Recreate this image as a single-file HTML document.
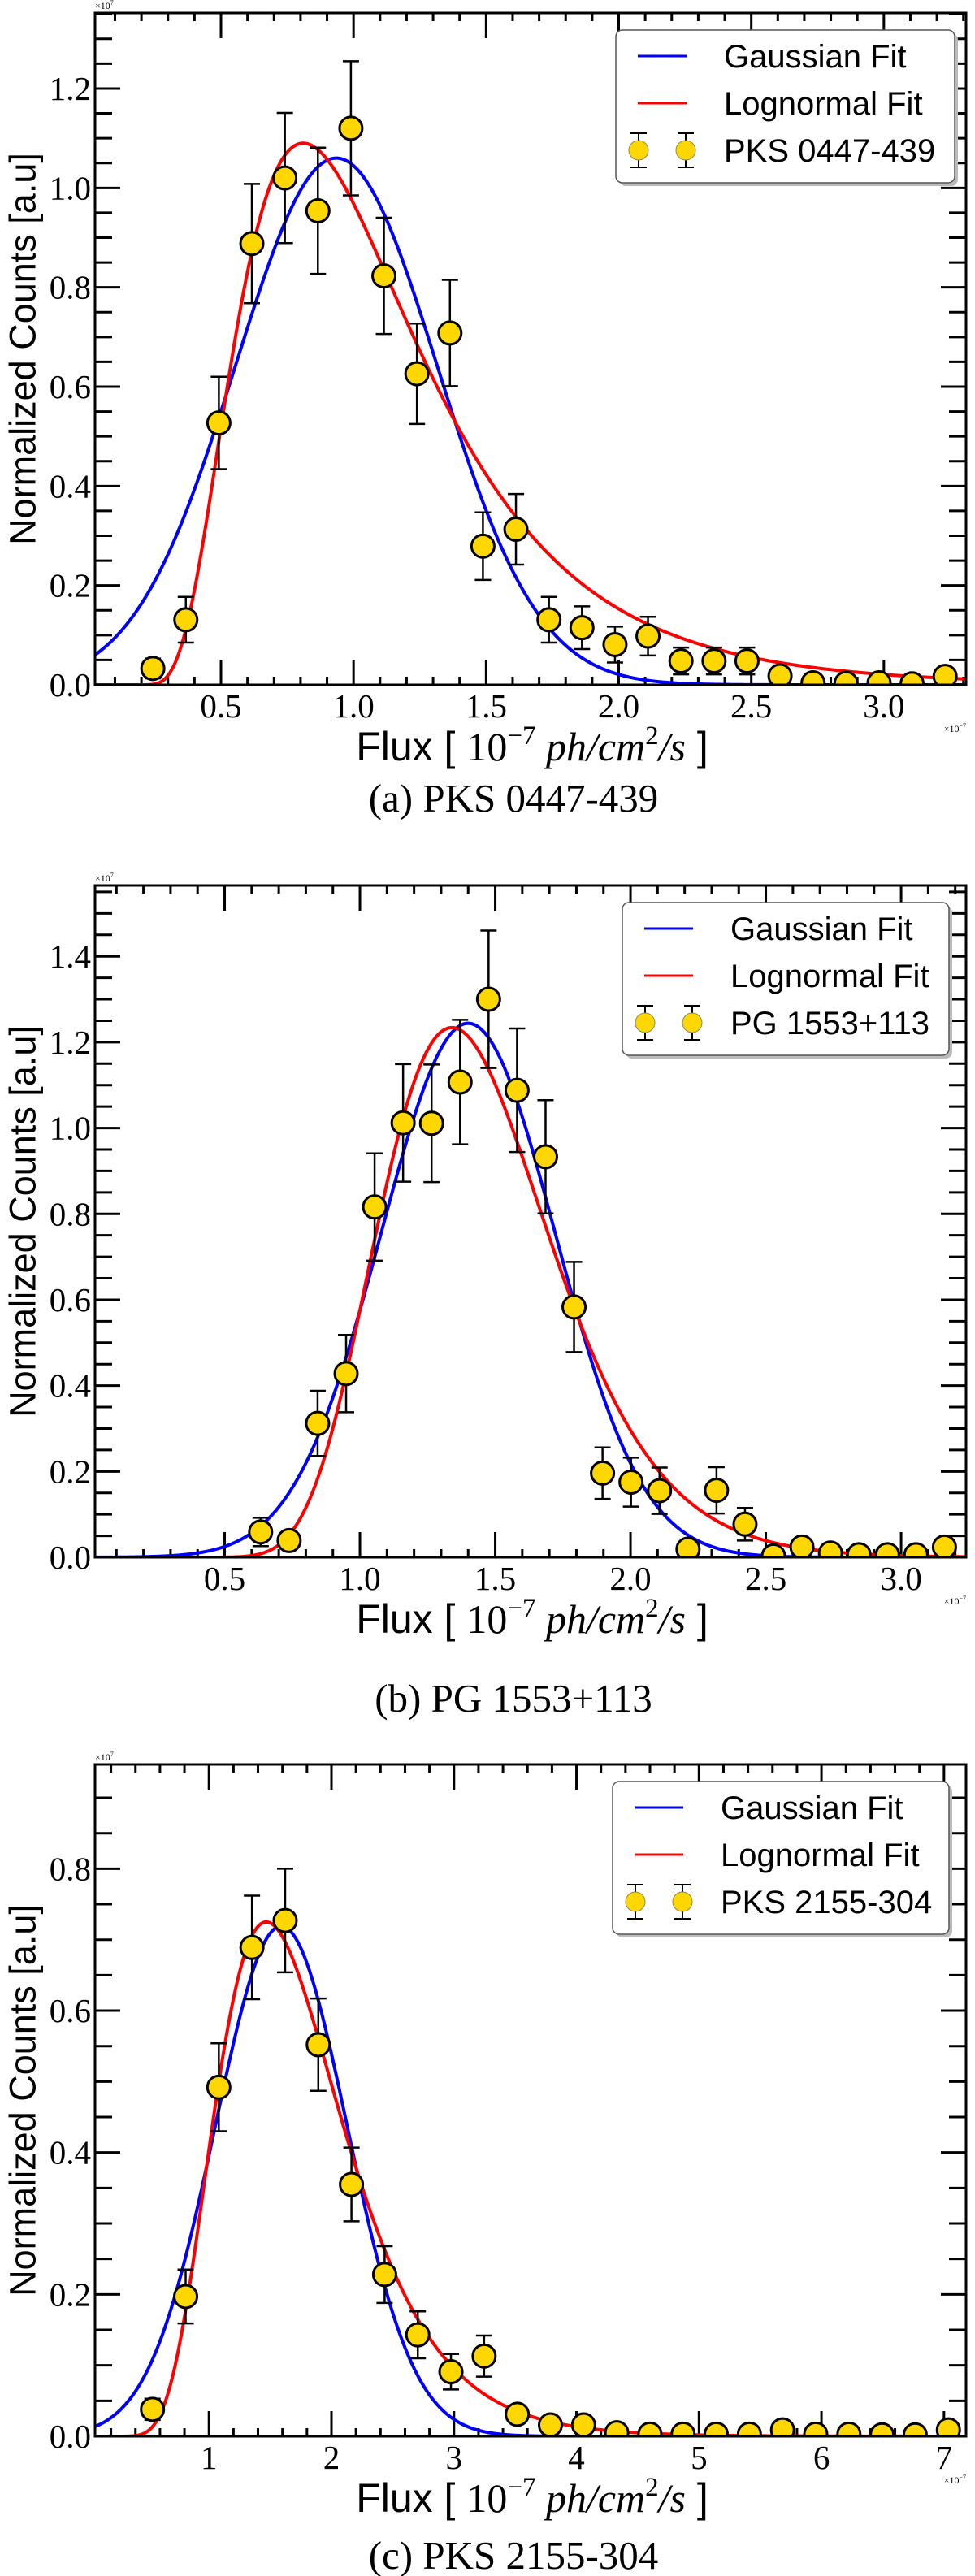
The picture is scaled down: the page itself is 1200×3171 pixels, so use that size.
<!DOCTYPE html>
<html><head><meta charset="utf-8">
<style>
html,body{margin:0;padding:0;background:#fff;}
svg{display:block;}
.tick{stroke:#000;stroke-width:3;}
</style></head>
<body>
<svg id="fig" width="1200" height="3171" viewBox="0 0 1200 3171" xmlns="http://www.w3.org/2000/svg"></svg>
<script>
// ---------- Panel A: PKS 0447-439 ----------
const aFlux0 = 0.243, aStep = 0.1245;
const aCounts = [0.033,0.131,0.527,0.888,1.02,0.954,1.12,0.823,0.626,0.708,0.279,0.313,0.131,0.115,0.081,0.098,0.048,0.048,0.048,0.018,0.004,0.003,0.004,0.002,0.017];
const aErrors = [0.02,0.046,0.093,0.12,0.131,0.127,0.135,0.117,0.101,0.107,0.068,0.071,0.046,0.043,0.036,0.039,0.027,0.027,0.027,0.01,0.004,0.003,0.004,0.002,0.01];
const aGauss = [1.06,0.935,0.38];          // amplitude, mean, sigma
const aLogn = [1.09,0.15,0.66,0.52];       // peak, shift, mode, shape
const aXTicks = ["0.5","1.0","1.5","2.0","2.5","3.0"];
const aYTicks = ["0.0","0.2","0.4","0.6","0.8","1.0","1.2"];

// ---------- Panel B: PG 1553+113 ----------
const bFlux0 = 0.633, bStep = 0.1053;
const bCounts = [0.059,0.039,0.312,0.428,0.816,1.012,1.011,1.107,1.30,1.088,0.933,0.583,0.196,0.175,0.155,0.019,0.156,0.077,0.003,0.024,0.01,0.006,0.006,0.006,0.024];
const bErrors = [0.033,0.018,0.076,0.09,0.125,0.137,0.137,0.145,0.16,0.144,0.132,0.105,0.06,0.057,0.054,0.015,0.054,0.038,0.003,0.012,0.008,0.006,0.006,0.006,0.012];
const bGauss = [1.244,1.40,0.322];
const bLogn = [1.234,0,1.34,0.237];
const bXTicks = ["0.5","1.0","1.5","2.0","2.5","3.0"];
const bYTicks = ["0.0","0.2","0.4","0.6","0.8","1.0","1.2","1.4"];

// ---------- Panel C: PKS 2155-304 ----------
const cFlux0 = 0.539, cStep = 0.2707;
const cCounts = [0.038,0.197,0.492,0.689,0.727,0.552,0.355,0.228,0.143,0.091,0.113,0.031,0.016,0.016,0.005,0.003,0.003,0.003,0.003,0.009,0.003,0.003,0.002,0.002,0.009];
const cErrors = [0.015,0.038,0.062,0.073,0.073,0.065,0.052,0.04,0.033,0.025,0.029,0.01,0.008,0.008,0.004,0.003,0.003,0.003,0.003,0.006,0.003,0.003,0.002,0.002,0.006];
const cGauss = [0.719,1.59,0.54];
const cLogn = [0.725,0,1.468,0.355];
const cXTicks = ["1","2","3","4","5","6","7"];
const cYTicks = ["0.0","0.2","0.4","0.6","0.8"];

const NS = "http://www.w3.org/2000/svg";
const svg = document.getElementById('fig');
function mk(tag, attrs, parent){
  const e = document.createElementNS(NS, tag);
  for (const k in attrs) e.setAttribute(k, attrs[k]);
  (parent||svg).appendChild(e);
  return e;
}

function panel(o){
  const g = mk('g', {});
  
  
  const L=117, R=1189, T=o.top, B=o.bottom;
  const sx = v => L + (v - o.xmin) / (o.xmax - o.xmin) * (R - L);
  const sy = v => B - v / o.ymax * (B - T);
  const clipId = 'clip-' + o.id;
  const cp = mk('clipPath', {id: clipId}, g);
  mk('rect', {x:L, y:T, width:R-L, height:B-T}, cp);

  for (let v = o.xminor; v < o.xmax; v += o.xminor) {
    const isMajor = o.xticks.some(t => Math.abs(parseFloat(t) - v) < 1e-6);
    const len = isMajor ? 31 : 10;
    const x = sx(v);
    if (x <= L + 1) continue;
    const t1 = mk('line', {x1:x, x2:x, y1:B, y2:B-len, class:'tick'}, g);
    
    
    const t2 = mk('line', {x1:x, x2:x, y1:T, y2:T+len, class:'tick'}, g);
    
    
  }
  for (let v = o.yminor; v < o.ymax; v += o.yminor) {
    const isMajor = o.yticks.some(t => Math.abs(parseFloat(t) - v) < 1e-6);
    const len = isMajor ? 31 : 21;
    const y = sy(v);
    const t1 = mk('line', {x1:L, x2:L+len, y1:y, y2:y, class:'tick'}, g);
    
    
    const t2 = mk('line', {x1:R, x2:R-len, y1:y, y2:y, class:'tick'}, g);
    
    
  }
  o.xticks.forEach(t => {
    const e = mk('text', {x:sx(parseFloat(t)), y:B+40, 'text-anchor':'middle', 'font-family':'Liberation Serif, serif', 'font-size':41}, g);
    e.textContent = t;
    
    
  });
  o.yticks.forEach(t => {
    const e = mk('text', {x:112, y:sy(parseFloat(t))+14, 'text-anchor':'end', 'font-family':'Liberation Serif, serif', 'font-size':41}, g);
    e.textContent = t;
    
    
  });
  const m1 = mk('text', {x:L, y:T-5, 'font-family':'Liberation Serif, serif', 'font-size':12}, g);
  m1.innerHTML = '×10<tspan dy="-5" font-size="8">7</tspan>';
  
  
  const m2 = mk('text', {x:R, y:B+58, 'text-anchor':'end', 'font-family':'Liberation Serif, serif', 'font-size':12}, g);
  m2.innerHTML = '×10<tspan dy="-5" font-size="8">−7</tspan>';
  
  

  const gauss = x => o.gauss[0] * Math.exp(-Math.pow(x - o.gauss[1], 2) / (2 * o.gauss[2] * o.gauss[2]));
  const logn = x => { const u = x - o.logn[1]; if (u <= 0) return 0; const l = Math.log(u / o.logn[2]); return o.logn[0] * Math.exp(-l*l / (2*o.logn[3]*o.logn[3])); };
  function curve(f, color, name){
    let d = '';
    for (let i = 0; i <= 600; i++) {
      const x = o.xmin + (o.xmax - o.xmin) * i / 600;
      d += (i ? 'L' : 'M') + sx(x).toFixed(2) + ',' + sy(f(x)).toFixed(2);
    }
    const p = mk('path', {d:d, fill:'none', stroke:color, 'stroke-width':4, 'clip-path':'url(#'+clipId+')'}, g);
    
    
  }
  curve(gauss, '#0000ff', 'gaussian-fit-curve');
  curve(logn, '#ff0000', 'lognormal-fit-curve');

  o.counts.forEach((v, i) => {
    const x = sx(o.flux0 + o.step * i);
    const e = o.errors[i];
    const eg = mk('g', {stroke:'#000', 'stroke-width':2.5}, g);
    
    
    mk('line', {x1:x, x2:x, y1:sy(v-e), y2:sy(v+e)}, eg);
    mk('line', {x1:x-10, x2:x+10, y1:sy(v-e), y2:sy(v-e)}, eg);
    mk('line', {x1:x-10, x2:x+10, y1:sy(v+e), y2:sy(v+e)}, eg);
  });
  o.counts.forEach((v, i) => {
    const c = mk('circle', {cx:sx(o.flux0 + o.step * i), cy:sy(v), r:14, fill:'#ffd700', stroke:'#000', 'stroke-width':3, 'clip-path':'url(#'+clipId+')'}, g);
    
    
  });

  const fr = mk('rect', {x:L, y:T, width:R-L, height:B-T, fill:'none', stroke:'#000', 'stroke-width':3}, g);
  
  

  const lg = mk('g', {}, g);
  
  
  const lx = o.legX, ly = T + 21, lw = o.legW, lh = 188;
  mk('rect', {x:lx+4, y:ly+4, width:lw, height:lh, rx:8, fill:'#bbb'}, lg);
  mk('rect', {x:lx, y:ly, width:lw, height:lh, rx:8, fill:'#fff', stroke:'#555', 'stroke-width':1.5}, lg);
  const rows = [ly+32, ly+90, ly+148];
  const e1 = mk('line', {x1:lx+27, x2:lx+87, y1:rows[0], y2:rows[0], stroke:'#0000ff', 'stroke-width':3}, lg);
  
  
  const e2 = mk('line', {x1:lx+27, x2:lx+87, y1:rows[1], y2:rows[1], stroke:'#ff0000', 'stroke-width':3}, lg);
  
  
  [lx+28, lx+86].forEach(mx => {
    mk('line', {x1:mx, x2:mx, y1:rows[2]-21, y2:rows[2]+21, stroke:'#000', 'stroke-width':2}, lg);
    mk('line', {x1:mx-10, x2:mx+10, y1:rows[2]-21, y2:rows[2]-21, stroke:'#000', 'stroke-width':2}, lg);
    mk('line', {x1:mx-10, x2:mx+10, y1:rows[2]+21, y2:rows[2]+21, stroke:'#000', 'stroke-width':2}, lg);
    const c = mk('circle', {cx:mx, cy:rows[2], r:12, fill:'#ffd700', stroke:'#886', 'stroke-width':1}, lg);
    
    
  });
  ['Gaussian Fit', 'Lognormal Fit', o.source].forEach((s, k) => {
    const t = mk('text', {x:lx+133, y:rows[k]+14, 'font-family':'Liberation Sans, sans-serif', 'font-size':40}, lg);
    t.textContent = s;
    
    
  });

  const cy = (T + B) / 2;
  const yl = mk('text', {x:28, y:cy, transform:'rotate(-90 28 '+cy+')', 'text-anchor':'middle', 'dominant-baseline':'central', 'font-family':'Liberation Sans, sans-serif', 'font-size':45}, g);
  yl.textContent = 'Normalized Counts [a.u]';
  
  
  const xl = mk('text', {x:655, y:B+93, 'text-anchor':'middle', 'font-size':50}, g);
  xl.innerHTML = '<tspan font-family="Liberation Sans, sans-serif">Flux [ </tspan><tspan font-family="Liberation Serif, serif">10</tspan><tspan font-family="Liberation Serif, serif" font-size="33" dy="-20">−7</tspan><tspan font-family="Liberation Serif, serif" font-style="italic" dy="20"> ph/cm</tspan><tspan font-family="Liberation Serif, serif" font-size="33" dy="-20">2</tspan><tspan font-family="Liberation Serif, serif" font-style="italic" dy="20">/s</tspan><tspan font-family="Liberation Sans, sans-serif"> ]</tspan>';
  
  
  const cap = mk('text', {x:632, y:o.capY+17, 'text-anchor':'middle', 'font-family':'Liberation Serif, serif', 'font-size':49}, g);
  cap.textContent = o.caption;
  
  
}

panel({id:'a', top:16, bottom:843, xmin:0.025, xmax:3.31, ymax:1.352, xminor:0.1, yminor:0.05,
  xticks:aXTicks, yticks:aYTicks, counts:aCounts, errors:aErrors, flux0:aFlux0, step:aStep,
  gauss:aGauss, logn:aLogn, legX:758, legW:417, source:'PKS 0447-439', caption:'(a) PKS 0447-439', capY:982});
panel({id:'b', top:1090, bottom:1917, xmin:0.021, xmax:3.24, ymax:1.565, xminor:0.1, yminor:0.05,
  xticks:bXTicks, yticks:bYTicks, counts:bCounts, errors:bErrors, flux0:bFlux0, step:bStep,
  gauss:bGauss, logn:bLogn, legX:766, legW:402, source:'PG 1553+113', caption:'(b) PG 1553+113', capY:2090});
panel({id:'c', top:2172, bottom:2999, xmin:0.07, xmax:7.18, ymax:0.947, xminor:0.2, yminor:0.05,
  xticks:cXTicks, yticks:cYTicks, counts:cCounts, errors:cErrors, flux0:cFlux0, step:cStep,
  gauss:cGauss, logn:cLogn, legX:754, legW:414, source:'PKS 2155-304', caption:'(c) PKS 2155-304', capY:3145});
</script>
</body></html>
